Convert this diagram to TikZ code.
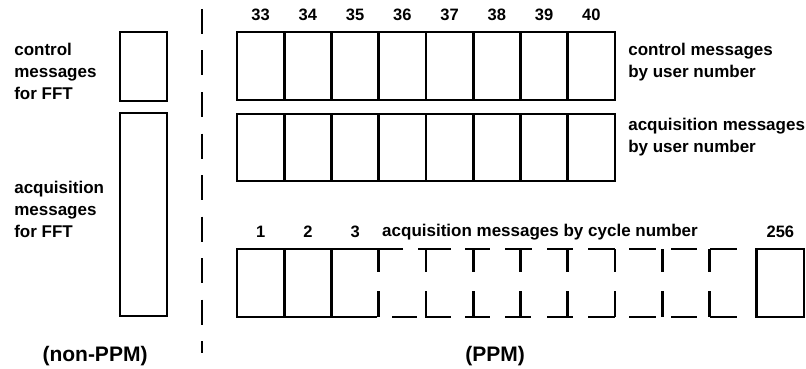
\documentclass[tikz,border=0pt]{standalone}
\usepackage{fontspec}
\setmainfont{Liberation Sans}
\def\cellw{47.25}
\def\rowx{237}
\def\cyctop{249}
\def\cycbot{317}
\newcommand{\cellX}[1]{\rowx+#1*\cellw}
\tikzset{
  lbl/.style={font=\fontsize{17}{22}\selectfont\bfseries,inner sep=0pt,align=left},
  num/.style={font=\fontsize{16.5}{18}\selectfont\bfseries,inner sep=0pt},
  tag/.style={font=\fontsize{21}{24}\selectfont\bfseries,inner sep=0pt}
}

\begin{document}
\begin{tikzpicture}[x=1pt,y=-1pt,line width=2.6pt]
  \useasboundingbox (0,0) rectangle (806,369);
  % non-PPM column
  \draw (120,32) rectangle (167,101);
  \draw (120,113) rectangle (167,316);
  \node[lbl,anchor=west] (ctlfft) at (13,71.5) {control\\messages\\for FFT};
  \node[lbl,anchor=west] (acqfft) at (13,209) {acquisition\\messages\\for FFT};
  \node[tag] (nonppm) at (95,356) {(non-PPM)};
  % separator
  \draw[line width=2.2pt,dash pattern=on 25pt off 16.5pt] (202,9) -- (202,353);
  % PPM, by user number
  \foreach \ya/\yb in {32/100, 114/181} {
    \draw ({\cellX{0}},\ya) rectangle ({\cellX{8}},\yb);
    \foreach \i in {1,...,7} \draw ({\cellX{\i}},\ya) -- ({\cellX{\i}},\yb);
  }
  \foreach \u [count=\i from 0] in {33,...,40}
    \node[num] (u\u) at ({\cellX{\i}+0.5*\cellw},15) {\u};
  \node[lbl,anchor=west] (ctlusr) at (627,62) {control messages\\by user number};
  \node[lbl,anchor=west] (acqusr) at (627,137.5) {acquisition messages\\by user number};
  % PPM, by cycle number
  \draw (403,\cyctop) -- ({\cellX{0}},\cyctop) -- ({\cellX{0}},\cycbot) -- (377,\cycbot);
  \foreach \i in {1,2} \draw ({\cellX{\i}},\cyctop) -- ({\cellX{\i}},\cycbot);
  \foreach \xa/\xb in {418/451,465/490,505/532,547/573,588/615,629/656,671/697,710/737}
    \draw (\xa,\cyctop) -- (\xb,\cyctop);
  \foreach \xa/\xb in {392/417,425/451,465/490,505/531,547/573,588/615,629/656,671/697,710/737}
    \draw (\xa,\cycbot) -- (\xb,\cycbot);
  \foreach \i in {3,...,10} {
    \draw ({\cellX{\i}},\cyctop) -- ({\cellX{\i}},272);
    \draw ({\cellX{\i}},291) -- ({\cellX{\i}},\cycbot);
  }
  \draw ({\cellX{11}},\cyctop) rectangle ({\cellX{12}},\cycbot);
  \foreach \c [count=\i from 0] in {1,2,3}
    \node[num] (c\c) at ({\cellX{\i}+0.5*\cellw},232) {\c};
  \node[num] (c256) at ({\cellX{11}+0.5*\cellw},232) {256};
  \node[lbl] (cyclbl) at (540,232) {acquisition messages by cycle number};
  \node[tag] (ppm) at (495,356) {(PPM)};
\end{tikzpicture}
\end{document}
